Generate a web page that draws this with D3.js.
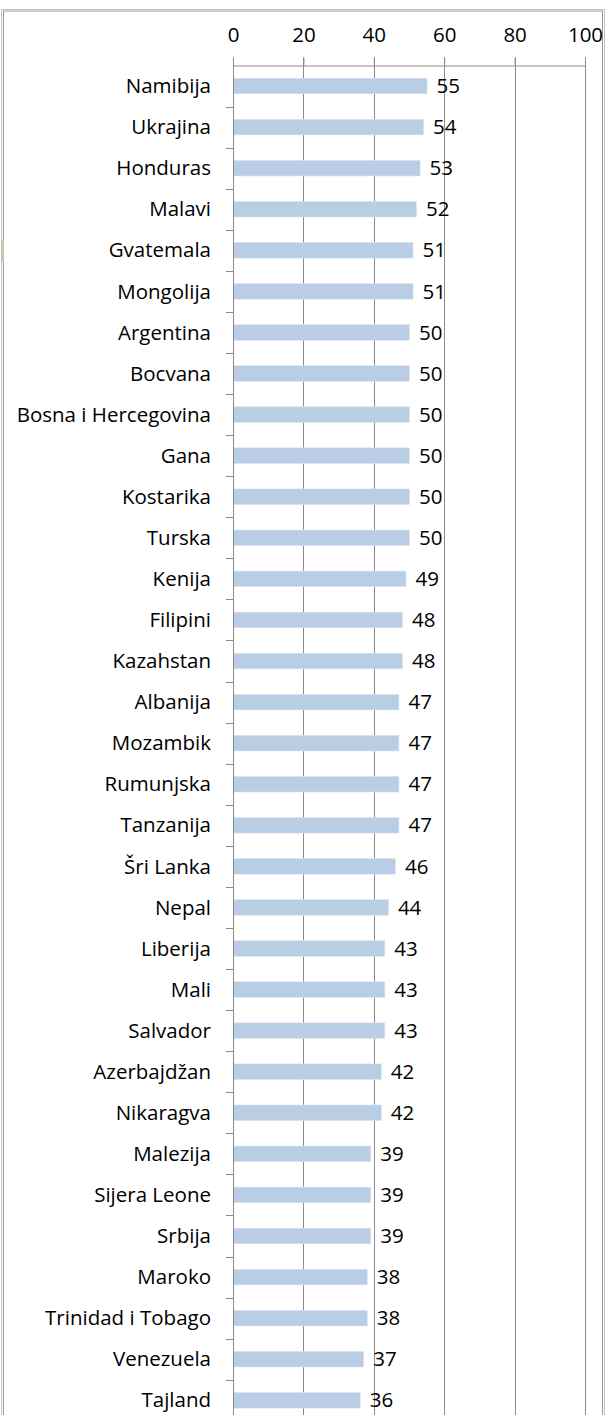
<!DOCTYPE html>
<html>
    <head>
        <meta charset="UTF-8">
        <script src="https://d3js.org/d3.v7.min.js"></script>
        <style>
            body { margin: 0; background: #fff; }
            text { font-family: "Open Sans", sans-serif; font-size: 20.5px; fill: #000; }
        </style>
    </head>

    <body>

        <svg id="canvas"></svg>

        <script>

            categories = ["Namibija", "Ukrajina", "Honduras", "Malavi", "Gvatemala", "Mongolija",
                "Argentina", "Bocvana", "Bosna i Hercegovina", "Gana", "Kostarika", "Turska",
                "Kenija", "Filipini", "Kazahstan", "Albanija", "Mozambik", "Rumunjska",
                "Tanzanija", "Šri Lanka", "Nepal", "Liberija", "Mali", "Salvador",
                "Azerbajdžan", "Nikaragva", "Malezija", "Sijera Leone", "Srbija", "Maroko",
                "Trinidad i Tobago", "Venezuela", "Tajland"];
            values = [55, 54, 53, 52, 51, 51, 50, 50, 50, 50, 50, 50, 49, 48, 48, 47, 47, 47,
                47, 46, 44, 43, 43, 43, 42, 42, 39, 39, 39, 38, 38, 37, 36];
            tickValues = [0, 20, 40, 60, 80, 100];

            width = 608;
            height = 1415;
            top0 = 65.5;
            step = 41.07;

            canvas = d3.select("#canvas")
                .attr("width", width)
                .attr("height", height);

            x = d3.scaleLinear().domain([0, 100]).range([233, 585]);
            y = d3.scaleBand()
                .domain(categories)
                .range([top0, top0 + step * categories.length])
                .paddingInner(0.62)
                .paddingOuter(0.31);

            // frame
            canvas.append("rect")
                .attr("x", 1.5).attr("y", 9.5)
                .attr("width", 603).attr("height", 1420)
                .attr("style", "fill:none; stroke:#c4c4c4; stroke-width:1;");
            canvas.append("rect")
                .attr("x", 3.5).attr("y", 11)
                .attr("width", 599).attr("height", 1420)
                .attr("style", "fill:none; stroke:#9a9a9a; stroke-width:1;");
            canvas.append("rect")
                .attr("x", 2).attr("y", 240).attr("width", 2).attr("height", 22)
                .attr("fill", "#c9c9a0");

            // gridlines
            canvas.selectAll("line.grid")
                .data(tickValues.slice(1))
                .enter()
                    .append("line")
                        .attr("x1", (d) => Math.round(x(d)) + 0.5)
                        .attr("x2", (d) => Math.round(x(d)) + 0.5)
                        .attr("y1", top0 - 8)
                        .attr("y2", height)
                        .attr("style", "stroke:#8a8a8a; stroke-width:1;");

            // top axis
            xAxis = d3.axisTop(x)
                .tickValues(tickValues)
                .tickSize(8)
                .tickPadding(16);
            gx = canvas.append("g")
                .attr("transform", "translate(0," + top0 + ")")
                .call(xAxis);
            gx.select(".domain").attr("stroke", "#8a8a8a");
            gx.selectAll(".tick line").attr("stroke", "#8a8a8a");
            gx.selectAll(".tick text")
                .attr("style", "font-family:'Open Sans',sans-serif; font-size:20.5px; fill:#000;");

            // bars
            canvas.selectAll("rect.bar")
                .data(values)
                .enter()
                    .append("rect")
                        .attr("class", "bar")
                        .attr("x", x(0) + 0.5)
                        .attr("y", (d, i) => y(categories[i]))
                        .attr("width", (d) => x(d) - x(0))
                        .attr("height", y.bandwidth())
                        .attr("style", "fill:#b9cde5; stroke:#dbe5f1; stroke-width:0.6;");

            // left axis with ticks on band boundaries
            canvas.append("line")
                .attr("x1", x(0) + 0.5).attr("x2", x(0) + 0.5)
                .attr("y1", top0).attr("y2", height)
                .attr("style", "stroke:#8a8a8a; stroke-width:1;");
            canvas.selectAll("line.ytick")
                .data(categories.slice(1))
                .enter()
                    .append("line")
                        .attr("x1", x(0) - 7).attr("x2", x(0))
                        .attr("y1", (d) => Math.round(y(d) - y.step() * 0.31) + 0.5)
                        .attr("y2", (d) => Math.round(y(d) - y.step() * 0.31) + 0.5)
                        .attr("style", "stroke:#8a8a8a; stroke-width:1;");

            // category labels
            canvas.selectAll("text.cat")
                .data(categories)
                .enter()
                    .append("text")
                        .attr("x", x(0) - 22)
                        .attr("y", (d) => y(d) + y.bandwidth() / 2)
                        .attr("dy", "0.35em")
                        .attr("text-anchor", "end")
                        .text((d) => d);

            // value labels
            canvas.selectAll("text.val")
                .data(values)
                .enter()
                    .append("text")
                        .attr("x", (d) => x(d) + 10)
                        .attr("y", (d, i) => y(categories[i]) + y.bandwidth() / 2)
                        .attr("dy", "0.35em")
                        .text((d) => d);

        </script>

    </body>

</html>
